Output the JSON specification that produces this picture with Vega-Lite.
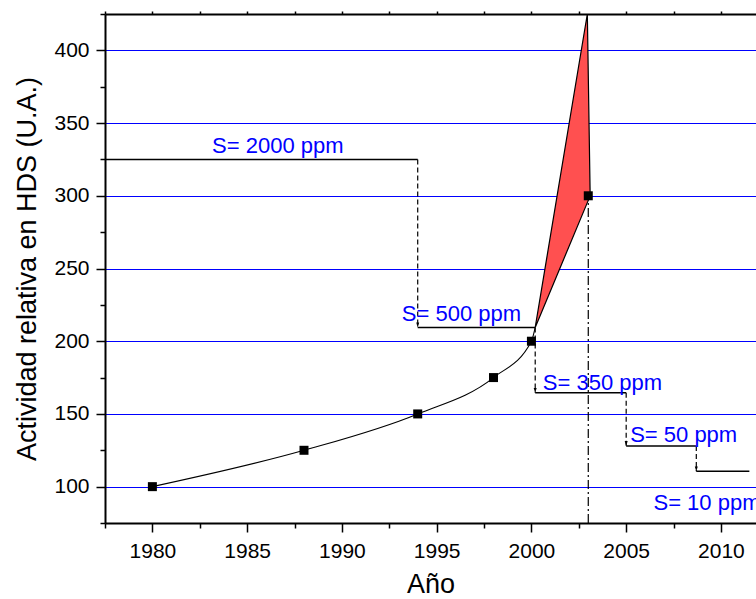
{
  "$schema": "https://vega.github.io/schema/vega-lite/v6.json",
  "width": 651,
  "height": 509,
  "autosize": {"type": "none"},
  "padding": {"left": 105, "top": 14, "right": 0, "bottom": 76},
  "background": "white",
  "config": {"view": {"stroke": null}, "font": "Liberation Sans"},
  "datasets": {
    "poly": [
      {"x": 2000.2, "y": 209.5, "y2": 209.5},
      {"x": 2002.95, "y": 425, "y2": 295.3},
      {"x": 2003.1, "y": 300, "y2": 300}
    ],
    "curve": [
      {"x": 1980, "y": 100},
      {"x": 1988, "y": 125},
      {"x": 1994, "y": 150},
      {"x": 1998, "y": 175},
      {"x": 2000, "y": 200},
      {"x": 2000.2, "y": 209.5}
    ],
    "pts": [
      {"x": 1980, "y": 100},
      {"x": 1988, "y": 125},
      {"x": 1994, "y": 150},
      {"x": 1998, "y": 175},
      {"x": 2000, "y": 200},
      {"x": 2003, "y": 300}
    ],
    "steps": [
      {"x": 1977.5, "x2": 1994, "y": 325},
      {"x": 1994, "x2": 2000.2, "y": 209.5},
      {"x": 2000.2, "x2": 2005, "y": 164.5},
      {"x": 2005, "x2": 2008.7, "y": 128},
      {"x": 2008.7, "x2": 2011.5, "y": 110.5}
    ],
    "drops": [
      {"x": 1994, "y": 325, "y2": 209.5},
      {"x": 2000.2, "y": 209.5, "y2": 164.5},
      {"x": 2005, "y": 164.5, "y2": 128},
      {"x": 2008.7, "y": 128, "y2": 110.5}
    ],
    "vline": [
      {"x": 2003, "y": 75, "y2": 300}
    ],
    "labels": [
      {"x": 1983.15, "y": 329.1, "t": "S= 2000 ppm"},
      {"x": 1993.16, "y": 213.7, "t": "S= 500 ppm"},
      {"x": 2000.6, "y": 166.7, "t": "S= 350 ppm"},
      {"x": 2005.21, "y": 130.5, "t": "S= 50 ppm"},
      {"x": 2006.44, "y": 84.2, "t": "S= 10 ppm"}
    ]
  },
  "resolve": {"axis": {"x": "independent", "y": "independent"}},
  "layer": [
    {
      "data": {"name": "poly"},
      "mark": {"type": "area", "fill": "#ff5050", "stroke": "black", "strokeWidth": 1.2, "opacity": 1},
      "encoding": {
        "x": {
          "field": "x", "type": "quantitative",
          "scale": {"domain": [1977.5, 2011.85], "nice": false, "zero": false},
          "axis": {
            "orient": "bottom",
            "title": "Año",
            "titleFontSize": 27,
            "titleFontWeight": "normal",
            "titleColor": "black",
            "titleFont": "Liberation Sans",
            "titlePadding": 10,
            "values": [1980, 1985, 1990, 1995, 2000, 2005, 2010],
            "format": "d",
            "labelFontSize": 21,
            "labelFont": "Liberation Sans",
            "labelColor": "black",
            "labelPadding": 8,
            "labelFlush": false,
            "labelOverlap": false,
            "tickSize": 9,
            "tickWidth": 1.5,
            "tickColor": "black",
            "domainColor": "black",
            "domainWidth": 2,
            "grid": false
          }
        },
        "y": {
          "field": "y", "type": "quantitative",
          "scale": {"domain": [75, 425], "nice": false, "zero": false},
          "axis": {
            "orient": "left",
            "title": "Actividad relativa en HDS (U.A.)",
            "titleFontSize": 27,
            "titleFontWeight": "normal",
            "titleColor": "black",
            "titleFont": "Liberation Sans",
            "titlePadding": 12,
            "values": [100, 150, 200, 250, 300, 350, 400],
            "format": "d",
            "labelFontSize": 21,
            "labelFont": "Liberation Sans",
            "labelColor": "black",
            "labelPadding": 7,
            "labelOverlap": false,
            "labelFlush": false,
            "tickSize": 9,
            "tickWidth": 1.5,
            "tickColor": "black",
            "domainColor": "black",
            "domainWidth": 2,
            "grid": true,
            "gridColor": "#0000ff",
            "gridWidth": 1.1
          }
        },
        "y2": {"field": "y2"}
      }
    },
    {
      "data": {"name": "curve"},
      "mark": {"type": "line", "color": "black", "strokeWidth": 1.1, "interpolate": "monotone"},
      "encoding": {
        "x": {
          "field": "x", "type": "quantitative",
          "scale": {"domain": [1977.5, 2011.85], "nice": false, "zero": false},
          "axis": {
            "orient": "bottom", "title": null, "labels": false, "domain": false, "grid": false,
            "values": [1977.5, 1982.5, 1987.5, 1992.5, 1997.5, 2002.5, 2007.5],
            "tickSize": 5, "tickWidth": 1.5, "tickColor": "black"
          }
        },
        "y": {
          "field": "y", "type": "quantitative",
          "scale": {"domain": [75, 425], "nice": false, "zero": false},
          "axis": {
            "orient": "left", "title": null, "labels": false, "domain": false, "grid": false,
            "values": [75, 125, 175, 225, 275, 325, 375, 425],
            "tickSize": 5, "tickWidth": 1.5, "tickColor": "black"
          }
        }
      }
    },
    {
      "data": {"name": "steps"},
      "mark": {"type": "rule", "color": "black", "strokeWidth": 1.5},
      "encoding": {
        "x": {"field": "x", "type": "quantitative", "scale": {"domain": [1977.5, 2011.85], "nice": false, "zero": false}, "axis": null},
        "x2": {"field": "x2"},
        "y": {"field": "y", "type": "quantitative", "scale": {"domain": [75, 425], "nice": false, "zero": false}, "axis": null}
      }
    },
    {
      "data": {"name": "drops"},
      "mark": {"type": "rule", "color": "black", "strokeWidth": 1.2, "strokeDash": [5, 3]},
      "encoding": {
        "x": {"field": "x", "type": "quantitative", "scale": {"domain": [1977.5, 2011.85], "nice": false, "zero": false}, "axis": null},
        "y": {"field": "y", "type": "quantitative", "scale": {"domain": [75, 425], "nice": false, "zero": false}, "axis": null},
        "y2": {"field": "y2"}
      }
    },
    {
      "data": {"name": "drops"},
      "mark": {"type": "point", "shape": "M-0.5,-1.6L0.5,-1.6L0,0Z", "filled": true, "color": "black", "opacity": 1, "size": 36},
      "encoding": {
        "x": {"field": "x", "type": "quantitative", "scale": {"domain": [1977.5, 2011.85], "nice": false, "zero": false}, "axis": null},
        "y": {"field": "y2", "type": "quantitative", "scale": {"domain": [75, 425], "nice": false, "zero": false}, "axis": null}
      }
    },
    {
      "data": {"name": "vline"},
      "mark": {"type": "rule", "color": "black", "strokeWidth": 1.2, "strokeDash": [9, 3, 2, 3]},
      "encoding": {
        "x": {
          "field": "x", "type": "quantitative",
          "scale": {"domain": [1977.5, 2011.85], "nice": false, "zero": false},
          "axis": {
            "orient": "top",
            "title": null,
            "labels": false,
            "values": [1977.5, 1980, 1982.5, 1985, 1987.5, 1990, 1992.5, 1995, 1997.5, 2000, 2002.5, 2005, 2007.5, 2010],
            "tickSize": 3,
            "tickWidth": 1.5,
            "tickColor": "black",
            "domainColor": "black",
            "domainWidth": 2,
            "grid": false
          }
        },
        "y": {"field": "y", "type": "quantitative", "scale": {"domain": [75, 425], "nice": false, "zero": false}, "axis": null},
        "y2": {"field": "y2"}
      }
    },
    {
      "data": {"name": "pts"},
      "mark": {"type": "point", "shape": "square", "filled": true, "color": "black", "opacity": 1, "size": 81},
      "encoding": {
        "x": {"field": "x", "type": "quantitative", "scale": {"domain": [1977.5, 2011.85], "nice": false, "zero": false}, "axis": null},
        "y": {"field": "y", "type": "quantitative", "scale": {"domain": [75, 425], "nice": false, "zero": false}, "axis": null}
      }
    },
    {
      "data": {"name": "labels"},
      "mark": {"type": "text", "align": "left", "baseline": "alphabetic", "font": "Liberation Sans", "fontSize": 22, "color": "#0000ff"},
      "encoding": {
        "x": {"field": "x", "type": "quantitative", "scale": {"domain": [1977.5, 2011.85], "nice": false, "zero": false}, "axis": null},
        "y": {"field": "y", "type": "quantitative", "scale": {"domain": [75, 425], "nice": false, "zero": false}, "axis": null},
        "text": {"field": "t"}
      }
    }
  ]
}
